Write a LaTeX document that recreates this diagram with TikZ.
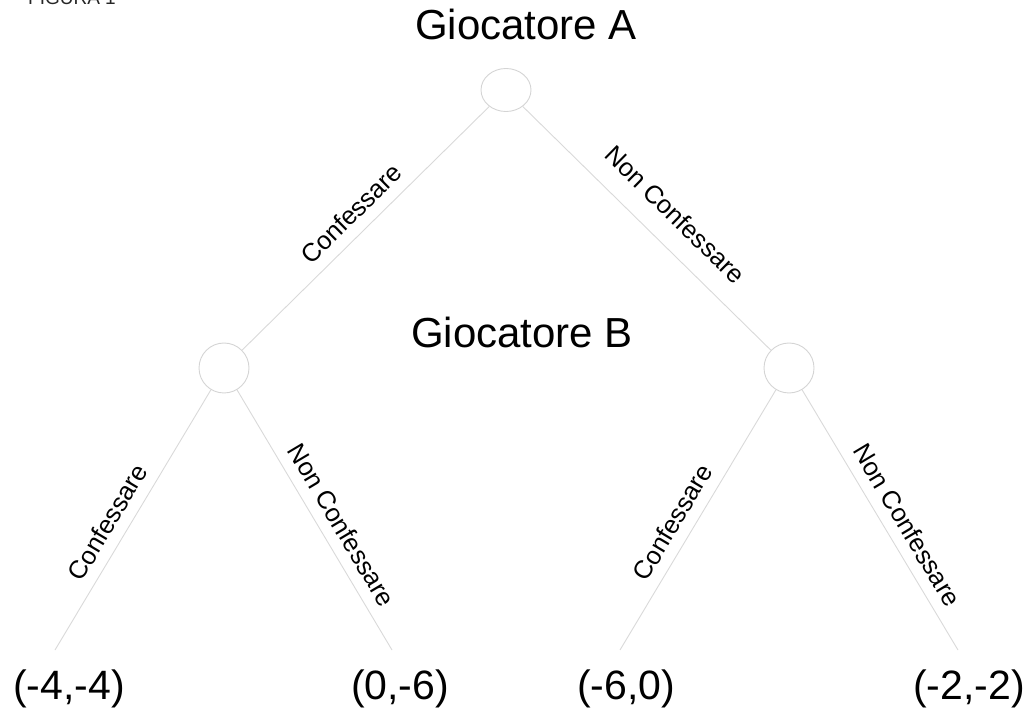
\documentclass[tikz,border=0pt]{standalone}
\usepackage{fontspec}
\setmainfont{Liberation Sans}
\usetikzlibrary{shapes.geometric}
\begin{document}
\begin{tikzpicture}[x=1pt,y=-1pt,
  decision/.style={draw=black!17, line width=0.9pt, circle, minimum size=50pt, inner sep=0pt},
  rootnode/.style={draw=black!17, line width=0.9pt, ellipse, minimum width=50pt, minimum height=43pt, inner sep=0pt},
  branch/.style={draw=black!15, line width=0.9pt},
  choice/.style={font=\fontsize{25.5}{29}\selectfont, sloped, inner sep=0pt, above=11pt},
  player/.style={font=\fontsize{42}{50}\selectfont, anchor=base west, inner sep=0pt},
  payoff/.style={font=\fontsize{41}{49}\selectfont, anchor=base, inner sep=0pt}]
\useasboundingbox (0,0) rectangle (1034,708);

% caption (partly above the page edge)
\node[font=\fontsize{19}{22}\selectfont, anchor=base west, inner sep=0pt, text=black!85] (fig) at (28,5) {FIGURA 1};

% players
\node[player] (tA) at (415,40) {Giocatore A};
\node[player] (tB) at (411,348) {Giocatore B};

% decision nodes
\node[rootnode] (A) at (506,90) {};
\node[decision] (B1) at (224,368) {};
\node[decision] (B2) at (789,368) {};

% ends of the branches
\coordinate (l1) at (55,650);
\coordinate (l2) at (392,650);
\coordinate (l3) at (620,650);
\coordinate (l4) at (958,650);

% payoffs
\node[payoff] (p1) at (69,699) {(-4,-4)};
\node[payoff] (p2) at (400,699) {(0,-6)};
\node[payoff] (p3) at (626,699) {(-6,0)};
\node[payoff] (p4) at (969,699) {(-2,-2)};

% branches
\draw[branch] (A) -- (B1) node[choice, pos=0.5] {Confessare};
\draw[branch] (A) -- (B2) node[choice, pos=0.53, above=9pt] {Non Confessare};
\draw[branch] (B1) -- (l1) node[choice, pos=0.55] {Confessare};
\draw[branch] (B1) -- (l2) node[choice, pos=0.56] {Non Confessare};
\draw[branch] (B2) -- (l3) node[choice, pos=0.55] {Confessare};
\draw[branch] (B2) -- (l4) node[choice, pos=0.56] {Non Confessare};
\end{tikzpicture}
\end{document}
